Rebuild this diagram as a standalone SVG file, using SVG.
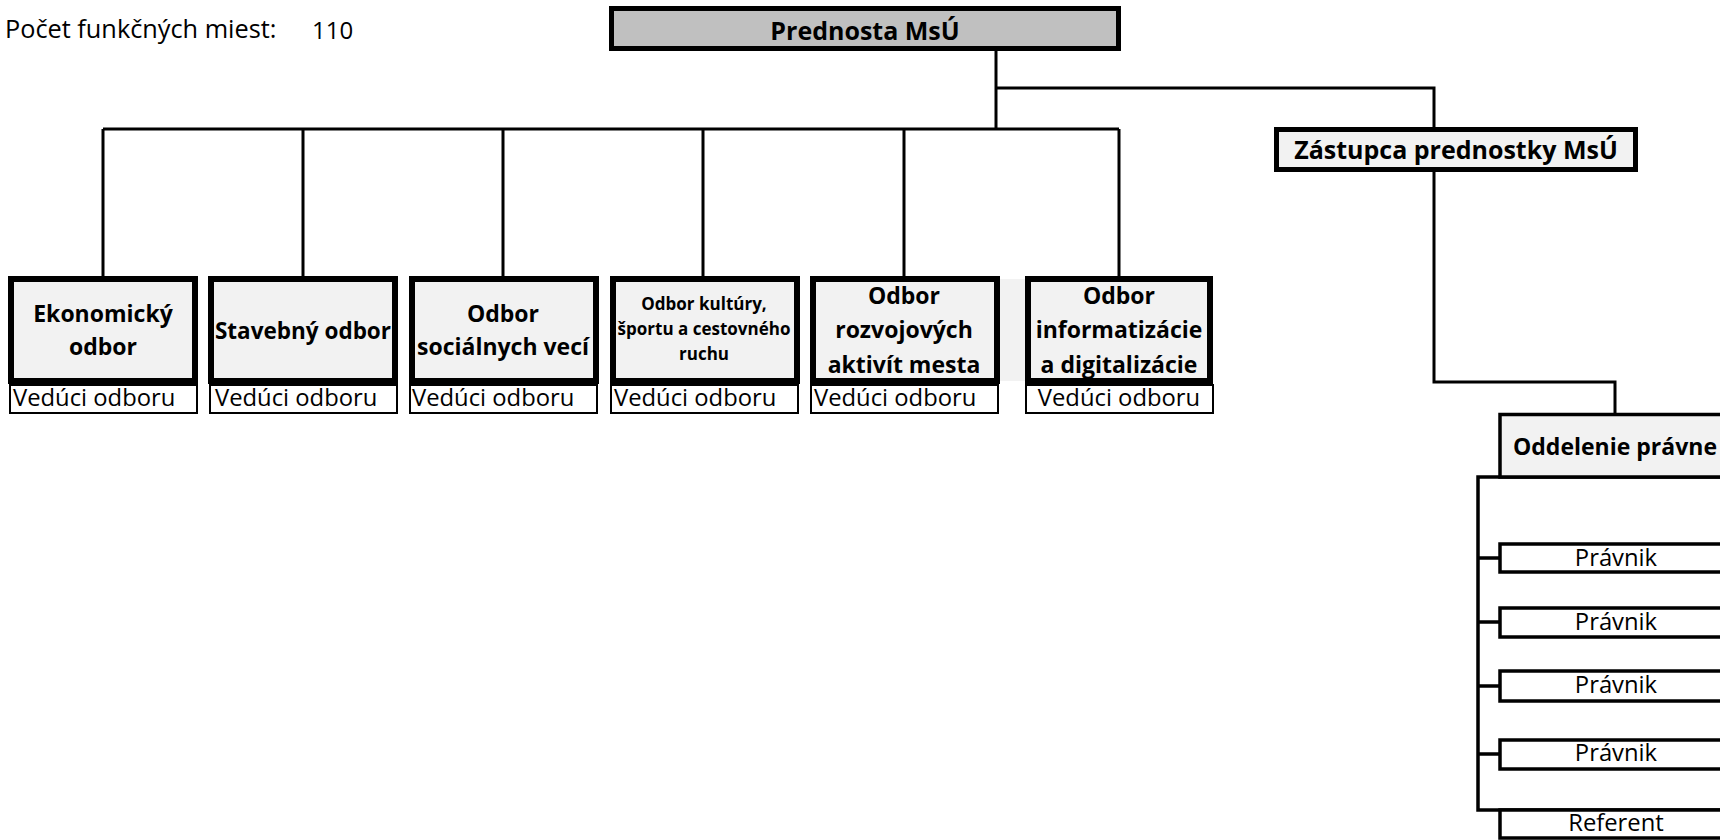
<svg xmlns="http://www.w3.org/2000/svg" width="1720" height="840" viewBox="0 0 1720 840">
<style>
  text { font-family: "Open Sans", "Liberation Sans", sans-serif; fill: #000; }
  .reg { font-size: 23.8px; }
  .b { font-weight: bold; font-size: 23px; }
  .h { font-weight: bold; font-size: 25px; }
  .sm { font-weight: bold; font-size: 17px; }
  .thick { fill: #f2f2f2; stroke: #000; stroke-width: 6; }
  .sub { fill: #fff; stroke: #000; stroke-width: 2; }
  .thin { fill: #fff; stroke: #000; stroke-width: 3.5; }
  .conn { fill: none; stroke: #000; stroke-width: 3; }
  .br { fill: none; stroke: #000; stroke-width: 3.5; }
</style>
<rect width="1720" height="840" fill="#fff"/>

<g id="pocet">
  <text class="reg" x="5" y="38" style="font-size:25.3px">Počet funkčných miest:</text>
  <text class="reg" x="312" y="39" style="font-size:24px">110</text>
</g>

<g id="connectors">
  <path class="conn" d="M996,51 V129"/>
  <path class="conn" d="M996,88 H1434 V128"/>
  <path class="conn" d="M103,129 H1119"/>
  <path class="conn" d="M103,129 V276 M303,129 V276 M503,129 V276 M703,129 V276 M904,129 V276 M1119,129 V276"/>
  <path class="conn" d="M1434,172 V382 H1615 V413"/>
  <path class="br" d="M1720,477 H1478 V810 H1720"/>
  <path class="br" d="M1478,558 H1500 M1478,622 H1500 M1478,686 H1500 M1478,754 H1500"/>
</g>

<g id="prednosta">
  <rect x="611.5" y="8.5" width="507" height="40" fill="#c0c0c0" stroke="#000" stroke-width="5"/>
  <text class="h" x="865" y="39.5" text-anchor="middle">Prednosta MsÚ</text>
</g>

<g id="zastupca">
  <rect x="1276.5" y="129.5" width="359" height="40" fill="#f2f2f2" stroke="#000" stroke-width="5"/>
  <text class="h" x="1456" y="158.5" text-anchor="middle">Zástupca prednostky MsÚ</text>
</g>

<rect x="999" y="279" width="27" height="102" fill="#f2f2f2"/>

<g id="ekonomicky">
  <rect class="thick" x="11" y="279" width="184" height="102"/>
  <text class="b" x="103" y="322" text-anchor="middle">Ekonomický</text>
  <text class="b" x="103" y="355" text-anchor="middle">odbor</text>
  <rect class="sub" x="10" y="385" width="187" height="28"/>
  <text class="reg" x="13" y="406">Vedúci odboru</text>
</g>

<g id="stavebny">
  <rect class="thick" x="211" y="279" width="184" height="102"/>
  <text class="b" x="303" y="339" text-anchor="middle" style="font-size:22.5px">Stavebný odbor</text>
  <rect class="sub" x="210" y="385" width="187" height="28"/>
  <text class="reg" x="215" y="406">Vedúci odboru</text>
</g>

<g id="socialny">
  <rect class="thick" x="412" y="279" width="184" height="102"/>
  <text class="b" x="503" y="322" text-anchor="middle">Odbor</text>
  <text class="b" x="503" y="355" text-anchor="middle">sociálnych vecí</text>
  <rect class="sub" x="410" y="385" width="187" height="28"/>
  <text class="reg" x="412" y="406">Vedúci odboru</text>
</g>

<g id="kultura">
  <rect class="thick" x="613" y="279" width="184" height="102"/>
  <text class="sm" x="704" y="310" text-anchor="middle">Odbor kultúry,</text>
  <text class="sm" x="704" y="335" text-anchor="middle">športu a cestovného</text>
  <text class="sm" x="704" y="360" text-anchor="middle">ruchu</text>
  <rect class="sub" x="611" y="385" width="187" height="28"/>
  <text class="reg" x="614" y="406">Vedúci odboru</text>
</g>

<g id="rozvoj">
  <rect class="thick" x="813" y="279" width="184" height="102"/>
  <text class="b" x="904" y="304" text-anchor="middle">Odbor</text>
  <text class="b" x="904" y="338" text-anchor="middle">rozvojových</text>
  <text class="b" x="904" y="373" text-anchor="middle">aktivít mesta</text>
  <rect class="sub" x="811" y="385" width="187" height="28"/>
  <text class="reg" x="814" y="406">Vedúci odboru</text>
</g>

<g id="informatizacia">
  <rect class="thick" x="1028" y="279" width="182" height="102"/>
  <text class="b" x="1119" y="304" text-anchor="middle">Odbor</text>
  <text class="b" x="1119" y="338" text-anchor="middle">informatizácie</text>
  <text class="b" x="1119" y="373" text-anchor="middle">a digitalizácie</text>
  <rect class="sub" x="1026" y="385" width="187" height="28"/>
  <text class="reg" x="1119" y="406" text-anchor="middle">Vedúci odboru</text>
</g>

<g id="pravne">
  <rect x="1500" y="414.5" width="240" height="62.5" fill="#f2f2f2" stroke="#000" stroke-width="3.5"/>
  <text class="b" x="1615" y="455" text-anchor="middle">Oddelenie právne</text>
</g>

<g id="pravnik1">
  <rect class="thin" x="1500" y="544" width="240" height="28"/>
  <text class="reg" x="1616" y="566" text-anchor="middle">Právnik</text>
</g>
<g id="pravnik2">
  <rect class="thin" x="1500" y="608" width="240" height="29"/>
  <text class="reg" x="1616" y="630" text-anchor="middle">Právnik</text>
</g>
<g id="pravnik3">
  <rect class="thin" x="1500" y="671" width="240" height="30"/>
  <text class="reg" x="1616" y="693" text-anchor="middle">Právnik</text>
</g>
<g id="pravnik4">
  <rect class="thin" x="1500" y="740" width="240" height="29"/>
  <text class="reg" x="1616" y="761" text-anchor="middle">Právnik</text>
</g>
<g id="referent">
  <rect class="thin" x="1500" y="810" width="240" height="28"/>
  <text class="reg" x="1616" y="831" text-anchor="middle">Referent</text>
</g>
</svg>
